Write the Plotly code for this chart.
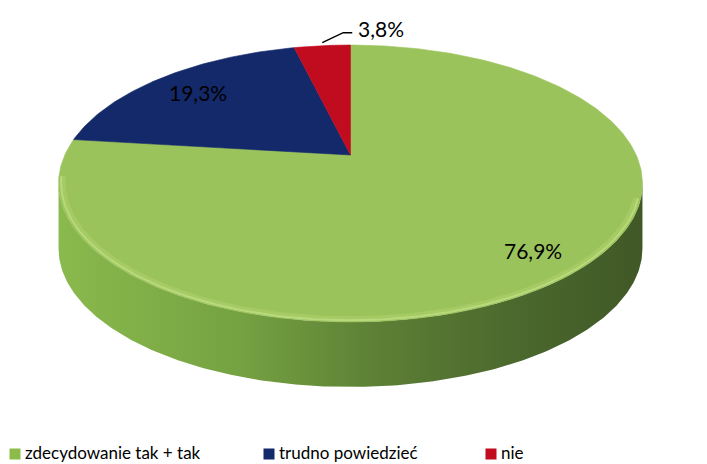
import numpy as np
import plotly.graph_objects as go

# Survey answers and their shares (%)
categories = ["zdecydowanie tak + tak", "trudno powiedzieć", "nie"]
values = [76.9, 19.3, 3.8]
top_colors = ["#9bc35b", "#13296a", "#c10b1f"]
legend_colors = ["#8cbb4a", "#13296a", "#c10b1f"]

W, H = 707, 464
FONT = "Lato, 'Open Sans', sans-serif"

# Perspective geometry of the tilted disc (screen pixels)
CX, CY = 350.5, 155.0
BX, AY, K = 285.7, 132.6, 0.2058
DEPTH = 65.0


def project(theta, r=1.0, dy=0.0):
    """Map a polar point on the disc (theta clockwise from 12 o'clock) to screen."""
    u = r * np.sin(theta)
    v = r * np.cos(theta)
    d = 1.0 + K * v
    return CX + BX * u / d, CY - AY * v / d + dy


fig = go.Figure()

# Side wall (front half only, visible part lies in the first slice)
t0 = np.arccos(-K)
t_front = np.linspace(t0, 2 * np.pi - t0, 240)
xt, yt = project(t_front)
xb, yb = project(t_front[::-1], dy=DEPTH)
fig.add_trace(go.Scatter(
    x=np.concatenate([xt, xb, xt[:1]]), y=np.concatenate([yt, yb, yt[:1]]),
    mode="lines", fill="toself", line=dict(width=0),
    fillgradient=dict(type="horizontal",
                      colorscale=[[0, "#8ab94d"], [0.3, "#76a342"], [0.55, "#5c7f35"],
                                  [0.8, "#4a672d"], [1, "#405826"]]),
    hoverinfo="skip", showlegend=False))

# Top faces of the slices, clockwise from 12 o'clock
fracs = np.array(values) / sum(values)
edges = np.concatenate([[0], np.cumsum(fracs)]) * 2 * np.pi
for i, cat in enumerate(categories):
    th = np.linspace(edges[i], edges[i + 1], max(8, int(400 * fracs[i])))
    px, py = project(th)
    fig.add_trace(go.Scatter(
        x=np.concatenate([[CX], px, [CX]]), y=np.concatenate([[CY], py, [CY]]),
        mode="lines", fill="toself", fillcolor=top_colors[i],
        line=dict(width=0.6, color=top_colors[i]),
        hoverinfo="skip", showlegend=False))

# Soft bevel highlight hugging the front rim
th_rim = np.linspace(np.pi * 0.6, np.pi * 1.45, 220)
for r, w, col in [(0.985, 5, "rgba(185,218,120,0.35)"), (0.992, 2, "rgba(198,228,140,0.6)")]:
    hx, hy = project(th_rim, r=r)
    fig.add_trace(go.Scatter(x=hx, y=hy, mode="lines", line=dict(color=col, width=w),
                             hoverinfo="skip", showlegend=False))

annotations = []
labels = [f"{v:.1f}%".replace(".", ",") for v in values]
mids = (edges[:-1] + edges[1:]) / 2

# Inside labels for the two large slices
for i, rr in enumerate([0.84, 0.79]):
    lx, ly = project(mids[i], r=rr)
    annotations.append(dict(x=lx, y=ly, text=labels[i], showarrow=False,
                            xanchor="center", yanchor="middle",
                            font=dict(family=FONT, size=21, color="#000000")))

# Outside label with leader line for the small slice
sx, sy = project(mids[2], r=1.0)
fig.add_trace(go.Scatter(x=[sx, sx + 21, sx + 30], y=[sy - 3, sy - 13, sy - 13],
                         mode="lines", line=dict(color="#000000", width=1.5),
                         hoverinfo="skip", showlegend=False))
annotations.append(dict(x=sx + 34, y=sy - 17, text=labels[2], showarrow=False,
                        xanchor="left", yanchor="middle",
                        font=dict(family=FONT, size=21, color="#000000")))

# Legend row at the bottom
leg_x = [15, 269, 491]
for i, cat in enumerate(categories):
    fig.add_trace(go.Scatter(x=[leg_x[i]], y=[454], mode="markers",
                             marker=dict(symbol="square", size=11, color=legend_colors[i],
                                         line=dict(width=0)),
                             hoverinfo="skip", showlegend=False))
    annotations.append(dict(x=leg_x[i] + 8, y=452, text=cat, showarrow=False,
                            xanchor="left", yanchor="middle",
                            font=dict(family=FONT, size=17, color="#000000")))

fig.update_layout(
    width=W, height=H, margin=dict(l=0, r=0, t=0, b=0),
    paper_bgcolor="white", plot_bgcolor="white",
    xaxis=dict(range=[0, W], visible=False, fixedrange=True),
    yaxis=dict(range=[H, 0], visible=False, fixedrange=True),
    annotations=annotations,
)

fig.write_html("out.html")
